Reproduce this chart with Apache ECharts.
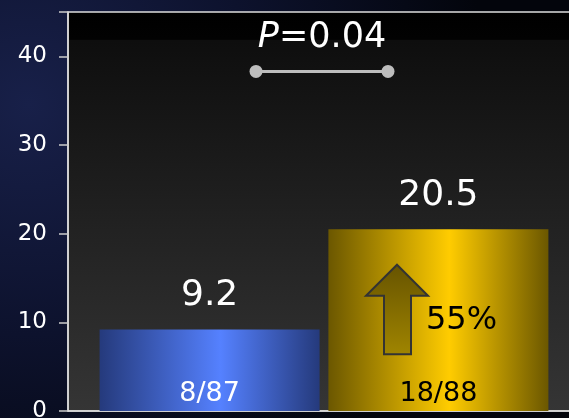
<!DOCTYPE html>
<html>
<head>
<meta charset="utf-8">
<style>
  html, body { margin: 0; padding: 0; background: #0d1126; }
  #chart { width: 569px; height: 418px; }
</style>
<script src="https://cdn.jsdelivr.net/npm/echarts@6/dist/echarts.min.js"></script>
</head>
<body>
<div id="chart"></div>
<script>
// Event rates (%) per arm, with raw counts shown inside the bars
const groups = ['Control', 'Treatment'];
const rates = [9.2, 20.5];
const counts = ['8/87', '18/88'];
const yTicks = [0, 10, 20, 30, 40];
const pText = '0.04';
const relChange = '55%';

const FONT = 'DejaVu Sans';
const chart = echarts.init(document.getElementById('chart'), null, { renderer: 'canvas' });

function hGrad(edge, mid, midPos) {
  return new echarts.graphic.LinearGradient(0, 0, 1, 0, [
    { offset: 0, color: edge },
    { offset: midPos, color: mid },
    { offset: 1, color: edge }
  ]);
}
const barFills = [hGrad('#253a7c', '#5581ff', 0.55), hGrad('#6b5700', '#ffcc00', 0.55)];
const countColors = ['#ffffff', '#000000'];

const series = groups.map((g, i) => ({
  name: g,
  type: 'bar',
  data: [rates[i]],
  barWidth: 220,
  barGap: '4%',
  itemStyle: { color: barFills[i] },
  label: {
    show: true,
    position: 'insideBottom',
    distance: 4,
    formatter: () => counts[i],
    color: countColors[i],
    fontFamily: FONT,
    fontSize: 27
  },
  markPoint: {
    symbol: 'circle',
    symbolSize: 0,
    data: [{ coord: [0, rates[i]], value: rates[i] }],
    label: {
      show: true,
      position: 'top',
      distance: 16,
      formatter: p => String(p.value),
      color: '#ffffff',
      fontFamily: FONT,
      fontSize: 36
    }
  },
  z: 2
}));

chart.setOption({
  animation: false,
  backgroundColor: new echarts.graphic.RadialGradient(0.05, 0.25, 1.1, [
    { offset: 0, color: '#182049' },
    { offset: 0.5, color: '#0d122d' },
    { offset: 1, color: '#03050c' }
  ]),
  grid: {
    left: 68, top: 12, width: 512, height: 399,
    outerBoundsMode: 'none',
    containLabel: false,
    show: true,
    borderColor: '#dddddd',
    borderWidth: 1.5,
    backgroundColor: new echarts.graphic.LinearGradient(0, 0, 0, 1, [
      { offset: 0, color: '#000000' },
      { offset: 0.07, color: '#020202' },
      { offset: 0.073, color: '#0e0e0e' },
      { offset: 1, color: '#353535' }
    ])
  },
  xAxis: {
    type: 'category',
    data: [''],
    axisLine: { show: true, lineStyle: { color: '#dddddd', width: 1.5 } },
    axisTick: { show: false },
    axisLabel: { show: false }
  },
  yAxis: {
    type: 'value',
    min: yTicks[0],
    max: 45,
    interval: 10,
    axisLine: { show: true, lineStyle: { color: '#dddddd', width: 1.5 } },
    axisTick: { show: true, length: 9, lineStyle: { color: '#cccccc', width: 1.5 } },
    axisLabel: {
      color: '#ffffff', fontFamily: FONT, fontSize: 23, margin: 21,
      formatter: v => (yTicks.indexOf(v) >= 0 ? String(v) : '')
    },
    splitLine: { show: false }
  },
  series: series
});

// Significance bracket and relative-change arrow, placed on the value scale
function annotate() {
  const y = v => chart.convertToPixel({ yAxisIndex: 0 }, v);
  const bracketY = y(38.3);
  const tipY = y(16.5), headY = y(13.0), baseY = y(6.4);
  const ax = 397;
  chart.setOption({
    graphic: [
      {
        type: 'line', z: 10,
        shape: { x1: 256, y1: bracketY, x2: 388, y2: bracketY },
        style: { stroke: '#bdbdbd', lineWidth: 3 }
      },
      { type: 'circle', z: 11, shape: { cx: 256, cy: bracketY, r: 6.5 }, style: { fill: '#bdbdbd' } },
      { type: 'circle', z: 11, shape: { cx: 388, cy: bracketY, r: 6.5 }, style: { fill: '#bdbdbd' } },
      {
        type: 'text', z: 11, x: 322, y: 38,
        style: {
          text: '{i|P}{n|=' + pText + '}',
          align: 'center', verticalAlign: 'middle',
          rich: {
            i: { fontFamily: FONT, fontStyle: 'italic', fontSize: 35, fill: '#ffffff' },
            n: { fontFamily: FONT, fontSize: 35, fill: '#ffffff' }
          }
        }
      },
      {
        type: 'polygon', z: 11,
        shape: {
          points: [
            [ax, tipY], [ax + 31, headY], [ax + 14, headY], [ax + 14, baseY],
            [ax - 13, baseY], [ax - 13, headY], [ax - 31, headY]
          ]
        },
        style: {
          fill: new echarts.graphic.LinearGradient(0, 0, 0, 1, [
            { offset: 0, color: '#665300' },
            { offset: 1, color: '#a08500' }
          ]),
          stroke: '#333333', lineWidth: 2
        }
      },
      {
        type: 'text', z: 11, x: 426, y: 321,
        style: {
          text: relChange, fontFamily: FONT, fontSize: 32, fill: '#000000',
          align: 'left', verticalAlign: 'middle'
        }
      }
    ]
  });
}
annotate();
</script>
</body>
</html>
